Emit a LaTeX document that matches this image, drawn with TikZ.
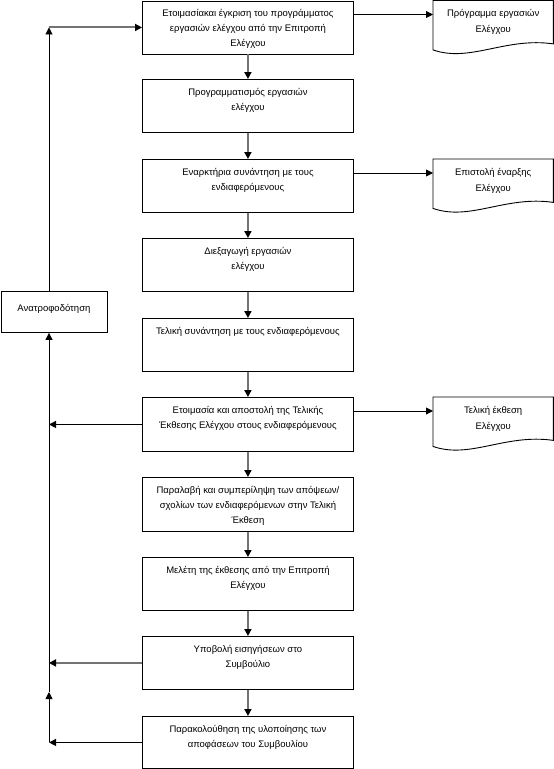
\documentclass[tikz,border=0pt]{standalone}
\usepackage{fontspec}
\setmainfont{Liberation Sans}
\usetikzlibrary{arrows.meta}
\newcommand{\bxt}[3]{\parbox[c][#1pt][t]{#2pt}{\centering\rule{0pt}{16pt}#3\par}}
\tikzset{
  stepbox/.style={draw=black, line width=0.9pt, inner sep=0pt, anchor=north west,
                  font=\fontsize{9.5}{15}\selectfont},
  docbox/.style={inner sep=0pt, anchor=north west, font=\fontsize{9.5}{16}\selectfont},
  docline/.style={draw=black, line width=0.9pt},
  conn/.style={draw=black, line width=0.9pt, -{Triangle[length=7pt,width=7pt]}},
  flow/.style={draw=black!55, line width=2pt, -{Triangle[length=7pt,width=7pt,color=black]}},
  plain/.style={draw=black, line width=0.9pt}
}
\newcommand{\docshape}[1]{%
  \draw[docline] (#1.north west) -- (#1.north east) -- ([yshift=10pt]#1.south east)
    .. controls ([xshift=-48pt,yshift=17pt]#1.south east) and ([xshift=37pt,yshift=-9pt]#1.south west)
    .. ([yshift=4pt]#1.south west) -- cycle;}
\begin{document}
\begin{tikzpicture}[x=1pt,y=-1pt]
\useasboundingbox (0,0) rectangle (554,769);

% main steps
\node[stepbox] (b1) at (142,0.5) {\bxt{53}{211}{Ετοιμασίακαι έγκριση του προγράμματος\\ εργασιών ελέγχου από την Επιτροπή\\ Ελέγχου}};
\node[stepbox] (b2) at (142,79) {\bxt{53}{211}{Προγραμματισμός εργασιών\\ ελέγχου}};
\node[stepbox] (b3) at (142,159) {\bxt{53}{211}{Εναρκτήρια συνάντηση με τους\\ ενδιαφερόμενους}};
\node[stepbox] (b4) at (142,238) {\bxt{53}{211}{Διεξαγωγή εργασιών\\ ελέγχου}};
\node[stepbox] (b5) at (142,318) {\bxt{53}{211}{Τελική συνάντηση με τους ενδιαφερόμενους}};
\node[stepbox] (b6) at (142,397) {\bxt{54}{211}{Ετοιμασία και αποστολή της Τελικής\\ Έκθεσης Ελέγχου στους ενδιαφερόμενους}};
\node[stepbox] (b7) at (142,477) {\bxt{54}{211}{Παραλαβή και συμπερίληψη των απόψεων/\\ σχολίων των ενδιαφερόμενων στην Τελική\\ Έκθεση}};
\node[stepbox] (b8) at (142,557) {\bxt{53}{211}{Μελέτη της έκθεσης από την Επιτροπή\\ Ελέγχου}};
\node[stepbox] (b9) at (142,636) {\bxt{53}{211}{Υποβολή εισηγήσεων στο\\ Συμβούλιο}};
\node[stepbox] (b10) at (142,716) {\bxt{52}{211}{Παρακολούθηση της υλοποίησης των\\ αποφάσεων του Συμβουλίου}};

% feedback box
\node[stepbox] (fb) at (0.5,291) {\parbox[c][41pt][t]{106pt}{\centering\rule{0pt}{20pt}Ανατροφοδότηση\par}};

% documents
\node[docbox] (d1) at (433,0.5) {\bxt{53}{120}{Πρόγραμμα εργασιών\\ Ελέγχου}};
\node[docbox] (d2) at (433,159) {\bxt{53}{120}{Επιστολή έναρξης\\ Ελέγχου}};
\node[docbox] (d3) at (433,397) {\bxt{53}{120}{Τελική έκθεση\\ Ελέγχου}};
\docshape{d1}
\docshape{d2}
\docshape{d3}

% main flow
\draw[flow] (b1.south) -- (b2.north);
\draw[flow] (b2.south) -- (b3.north);
\draw[flow] (b3.south) -- (b4.north);
\draw[flow] (b4.south) -- (b5.north);
\draw[flow] (b5.south) -- (b6.north);
\draw[flow] (b6.south) -- (b7.north);
\draw[flow] (b7.south) -- (b8.north);
\draw[flow] (b8.south) -- (b9.north);
\draw[flow] (b9.south) -- (b10.north);

% outputs
\draw[conn] ([yshift=-14pt]b1.north east) -- ([yshift=-14pt]d1.north west);
\draw[conn] ([yshift=-14pt]b3.north east) -- ([yshift=-14pt]d2.north west);
\draw[conn] ([yshift=-14pt]b6.north east) -- ([yshift=-14pt]d3.north west);

% feedback loop
\coordinate (lx) at (49,0);
\coordinate (k) at (49,692);
\draw[conn] (b6.west) -- (b6.west -| lx);
\draw[flow] (b9.west) -- (b9.west -| lx);
\draw[conn] (b10.west) -- (b10.west -| lx);
\draw[conn] (b10.west -| lx) -- (k);
\draw[conn] (k) -- (fb.south -| lx);
\draw[conn] (fb.north -| lx) -- (b1.west -| lx);
\draw[flow] (b1.west -| lx) -- (b1.west);
\end{tikzpicture}
\end{document}
